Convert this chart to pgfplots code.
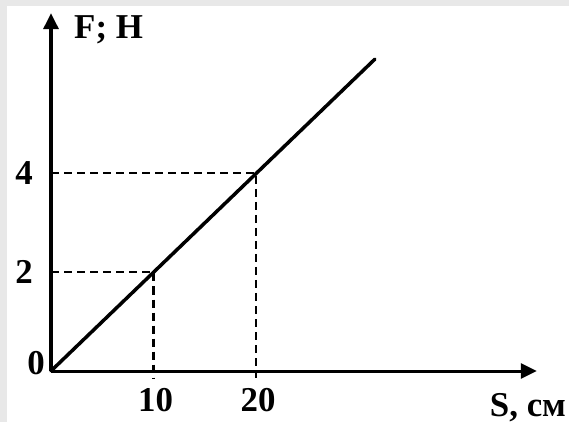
\documentclass[border=0pt]{standalone}
\usepackage{fontspec}
\setmainfont{Liberation Serif}
\usepackage{pgfplots}
\pgfplotsset{compat=1.18}
\usetikzlibrary{arrows.meta}
\definecolor{frame}{RGB}{232,232,232}
\newcommand\lab{\fontsize{35}{42}\selectfont\bfseries}
\begin{document}
\begin{tikzpicture}
% grey strip on top and left, as in the scanned picture
\fill[frame] (-51bp,-51bp) rectangle (518bp,371bp);
\fill[white] (-44bp,-51bp) rectangle (518bp,365bp);
\begin{axis}[
  anchor=origin, at={(0,0)},
  x=10.25bp, y=49.5bp,
  xmin=0, xmax=47.4, ymin=0, ymax=7.23,
  enlargelimits=false,
  clip=false,
  axis lines=left,
  axis line style={line width=3bp, -{Triangle[length=16bp,width=15bp]}},
  xtick={10,20}, ytick={2,4},
  major tick length=0pt,
  tick style={draw=none},
  every tick label/.append style={font=\lab},
  /pgf/number format/assume math mode=true,
  xticklabel style={anchor=north, inner sep=0pt, yshift=-17bp, xshift=2bp},
  yticklabel style={anchor=east, inner sep=0pt, xshift=-18bp},
  xlabel={S, см}, ylabel={F; Н},
  every axis x label/.style={at={(axis cs:0,0)}, anchor=base, inner sep=0pt,
    xshift=477bp, yshift=-45bp, font=\lab},
  every axis y label/.style={at={(axis cs:0,7.23)}, anchor=north west, inner sep=0pt,
    xshift=23bp, yshift=-2bp, font=\lab},
]
% F = 0.2 S
\addplot[line width=3.5bp, line cap=round] coordinates {(0,0) (31.6,6.3)};
% guide lines
\addplot[line width=2.3bp, dash pattern=on 8bp off 5bp] coordinates {(0,4) (20,4) (20,-0.14)};
\addplot[line width=2.3bp, dash pattern=on 8bp off 5bp] coordinates {(0,2) (10,2) (10,-0.14)};
\node[anchor=base east, inner sep=0pt, xshift=-6bp, yshift=-3bp, font=\lab] at (axis cs:0,0) {0};
\end{axis}
\pgfresetboundingbox
\path[use as bounding box] (-51bp,-51bp) rectangle (518bp,371bp);
\end{tikzpicture}
\end{document}
